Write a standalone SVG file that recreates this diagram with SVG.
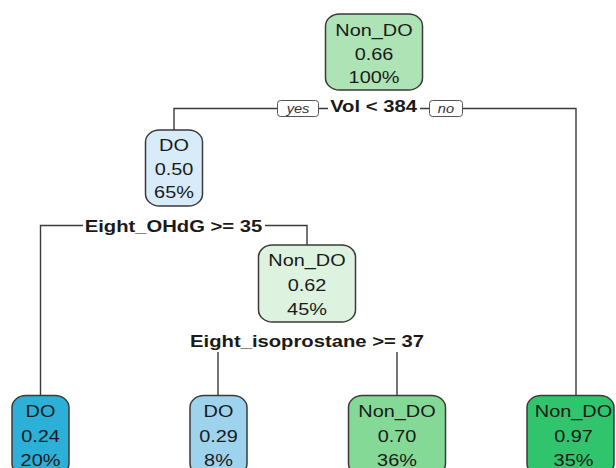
<svg xmlns="http://www.w3.org/2000/svg" width="616" height="468" viewBox="0 0 616 468">
  <style>
    .box { stroke: #3a3a3a; stroke-width: 1.5; }
    .nt { font-family: "Liberation Sans", Arial, sans-serif; font-size: 17px; fill: #1a1a1a; text-anchor: middle; }
    .split { font-family: "Liberation Sans", Arial, sans-serif; font-size: 17.3px; font-weight: bold; fill: #1a1a1a; text-anchor: middle; }
    .yn { font-family: "Liberation Sans", Arial, sans-serif; font-size: 12.5px; font-style: italic; fill: #333; text-anchor: middle; }
    .ynbox { fill: #ffffff; stroke: #555; stroke-width: 1; }
    .edge { fill: none; stroke: #3a3a3a; stroke-width: 1.4; }
  </style>
  <rect width="616" height="468" fill="#ffffff"/>

  <!-- connectors -->
  <g id="connectors">
    <polyline class="edge" points="174,130 174,108.5 576,108.5 576,395"/>
    <polyline class="edge" points="40.5,395 40.5,225.5 307,225.5 307,245"/>
    <line class="edge" x1="218" y1="352" x2="218" y2="395"/>
    <line class="edge" x1="397" y1="352" x2="397" y2="395"/>
  </g>

  <!-- split labels -->
  <g id="split-root">
    <rect x="328" y="98" width="92" height="18" fill="#ffffff"/>
    <text class="split" transform="translate(373.5 112) scale(1.17 1)">Vol &lt; 384</text>
    <rect class="ynbox" x="277.5" y="100.5" width="41" height="16" rx="3"/>
    <text class="yn" transform="translate(298 113) scale(1.17 1)">yes</text>
    <rect class="ynbox" x="429.5" y="100.5" width="33" height="16" rx="3"/>
    <text class="yn" transform="translate(446 113) scale(1.17 1)">no</text>
  </g>
  <g id="split-ohdg">
    <rect x="83" y="214" width="182" height="22" fill="#ffffff"/>
    <text class="split" transform="translate(173.5 232) scale(1.17 1)">Eight_OHdG &gt;= 35</text>
  </g>
  <g id="split-isoprostane">
    <text class="split" transform="translate(307 346.5) scale(1.17 1)">Eight_isoprostane &gt;= 37</text>
  </g>

  <!-- nodes -->
  <g id="node-root">
    <rect class="box" x="325.5" y="14" width="97" height="76" rx="14" ry="12" fill="#aee3b6"/>
    <text class="nt" transform="translate(374 36) scale(1.17 1)">Non_DO</text>
    <text class="nt" transform="translate(374 59.5) scale(1.17 1)">0.66</text>
    <text class="nt" transform="translate(374 83) scale(1.17 1)">100%</text>
  </g>
  <g id="node-do-050">
    <rect class="box" x="145.5" y="130" width="57" height="76" rx="14" ry="12" fill="#d7ebf8"/>
    <text class="nt" transform="translate(174 150.5) scale(1.17 1)">DO</text>
    <text class="nt" transform="translate(174 174.5) scale(1.17 1)">0.50</text>
    <text class="nt" transform="translate(174 198) scale(1.17 1)">65%</text>
  </g>
  <g id="node-nondo-062">
    <rect class="box" x="258.5" y="245" width="97" height="77" rx="14" ry="12" fill="#ddf3e0"/>
    <text class="nt" transform="translate(307 266) scale(1.17 1)">Non_DO</text>
    <text class="nt" transform="translate(307 290.5) scale(1.17 1)">0.62</text>
    <text class="nt" transform="translate(307 314.5) scale(1.17 1)">45%</text>
  </g>
  <g id="leaf-do-024">
    <rect class="box" x="12" y="395.5" width="57" height="80" rx="14" ry="12" fill="#2cb0d8"/>
    <text class="nt" transform="translate(40.5 417) scale(1.17 1)">DO</text>
    <text class="nt" transform="translate(40.5 441.5) scale(1.17 1)">0.24</text>
    <text class="nt" transform="translate(40.5 465.5) scale(1.17 1)">20%</text>
  </g>
  <g id="leaf-do-029">
    <rect class="box" x="190" y="395.5" width="57" height="80" rx="14" ry="12" fill="#9ed3ee"/>
    <text class="nt" transform="translate(218.5 417) scale(1.17 1)">DO</text>
    <text class="nt" transform="translate(218.5 441.5) scale(1.17 1)">0.29</text>
    <text class="nt" transform="translate(218.5 465.5) scale(1.17 1)">8%</text>
  </g>
  <g id="leaf-nondo-070">
    <rect class="box" x="348.5" y="395.5" width="97" height="80" rx="14" ry="12" fill="#84d996"/>
    <text class="nt" transform="translate(397 417) scale(1.17 1)">Non_DO</text>
    <text class="nt" transform="translate(397 441.5) scale(1.17 1)">0.70</text>
    <text class="nt" transform="translate(397 465.5) scale(1.17 1)">36%</text>
  </g>
  <g id="leaf-nondo-097">
    <rect class="box" x="527" y="395.5" width="87" height="80" rx="14" ry="12" fill="#30c46c"/>
    <text class="nt" transform="translate(573.5 417) scale(1.17 1)">Non_DO</text>
    <text class="nt" transform="translate(573.5 441.5) scale(1.17 1)">0.97</text>
    <text class="nt" transform="translate(573.5 465.5) scale(1.17 1)">35%</text>
  </g>
</svg>
